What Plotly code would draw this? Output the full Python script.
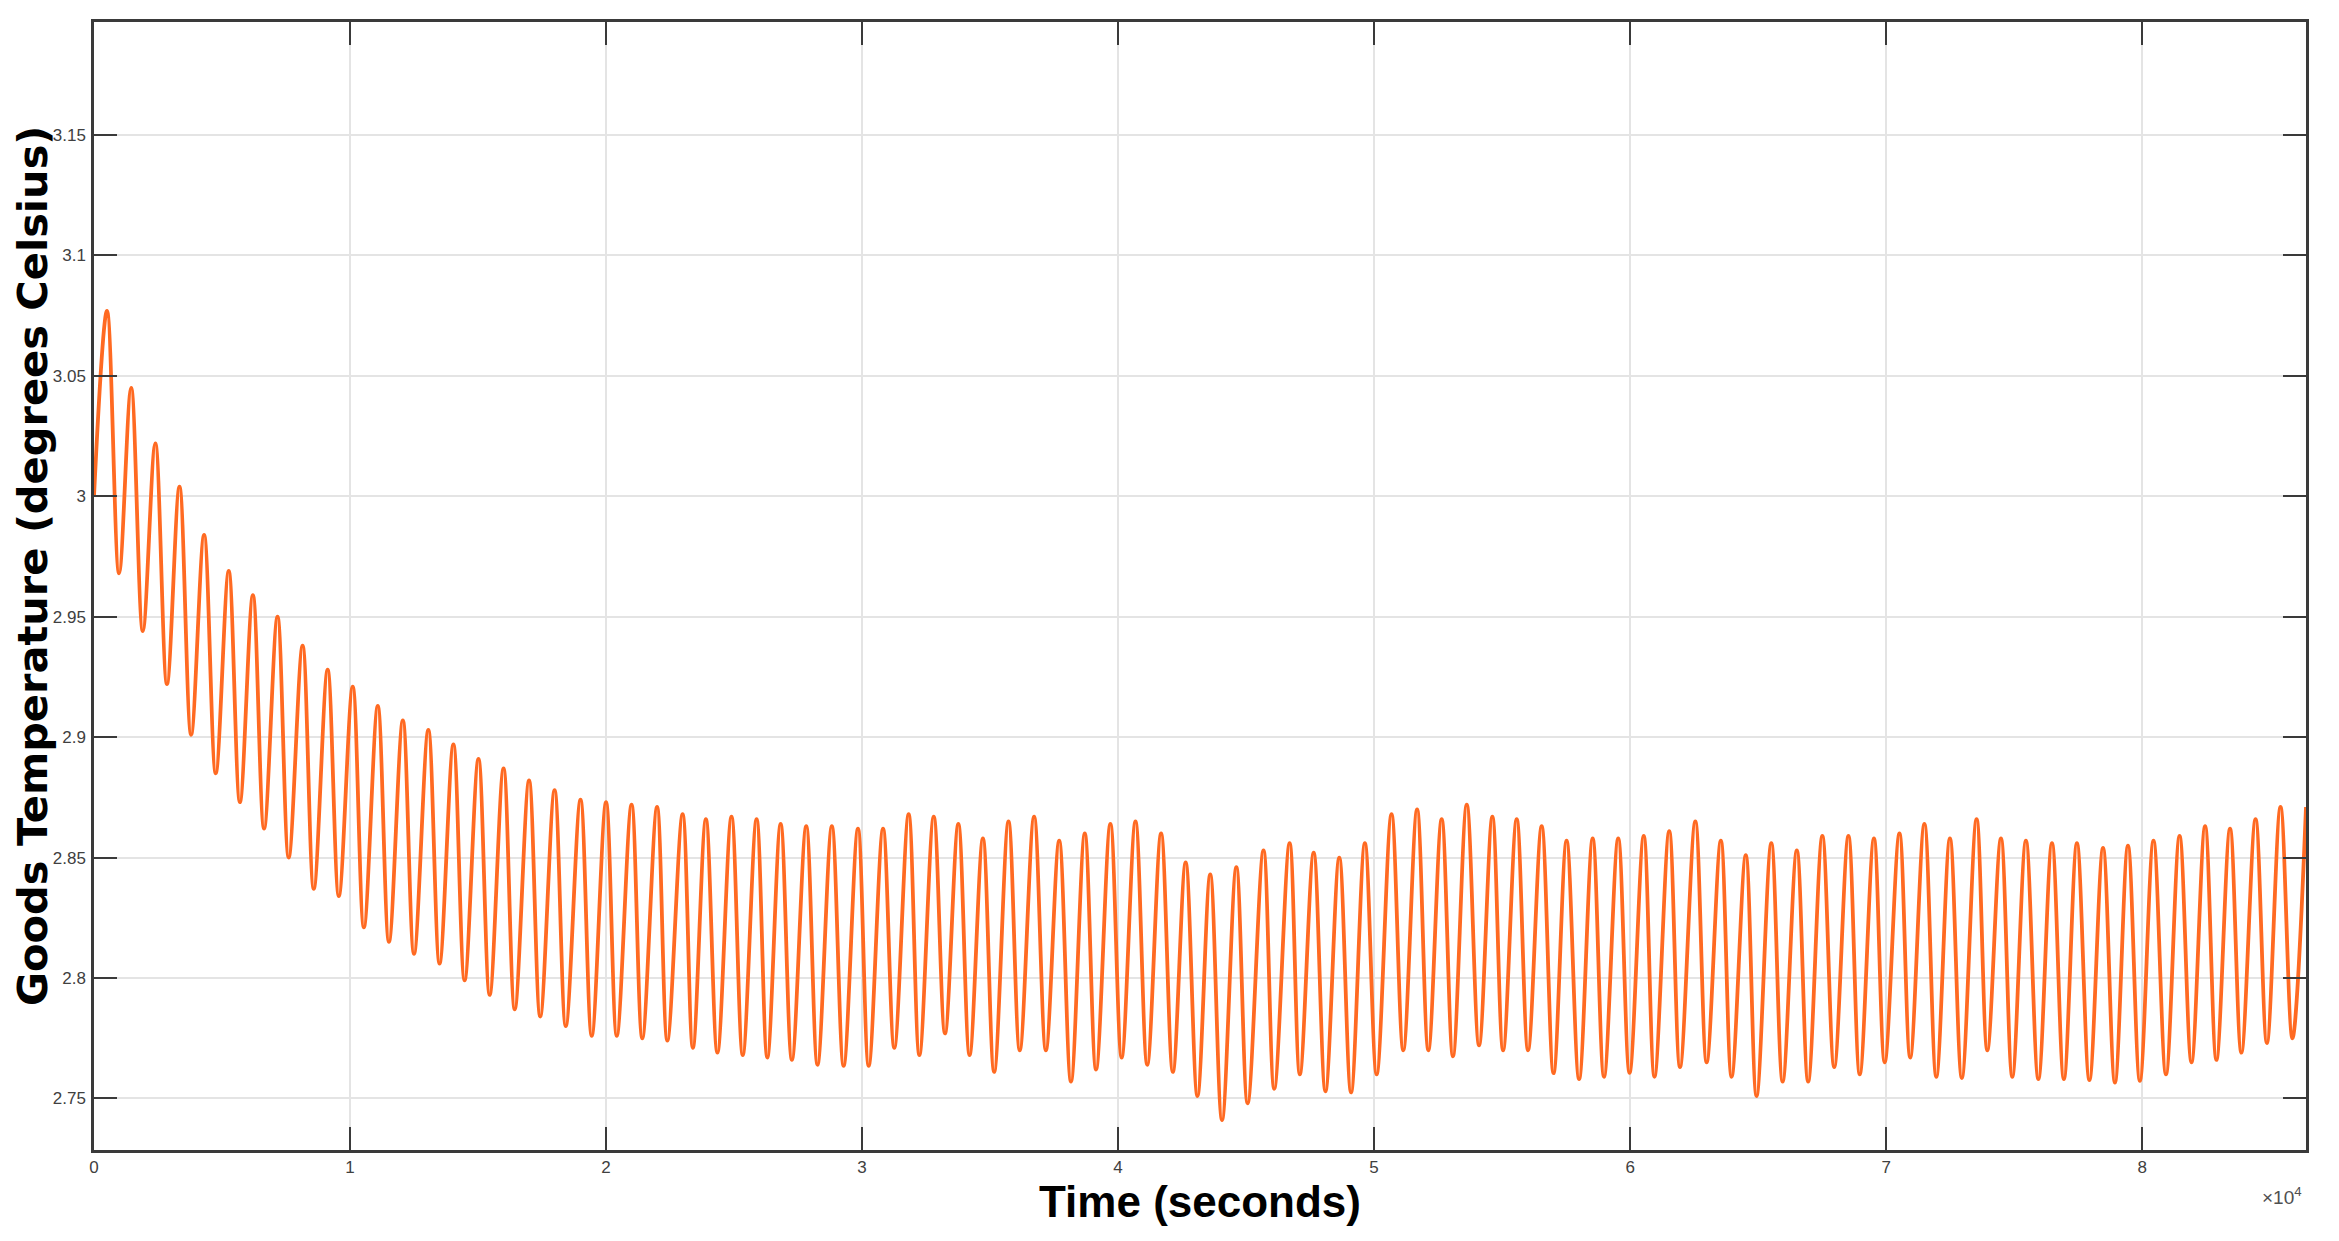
import plotly.graph_objects as go

# ---- data (time in s, temperature in °C) ----
start_time = [0]
start_temp = [3.000]

peak_time = [507, 1451, 2395, 3339, 4300, 5262, 6206, 7168, 8147, 9126,
             10105, 11084, 12063, 13059, 14038, 15017, 15997, 16993, 17990, 19003,
             20000, 20997, 21993, 22990, 23900, 24900, 25880, 26820, 27820, 28820,
             29840, 30820, 31820, 32800, 33760, 34720, 35720, 36720, 37700, 38700,
             39700, 40680, 41680, 42640, 43600, 44620, 45680, 46700, 47640, 48640,
             49640, 50680, 51680, 52640, 53620, 54620, 55570, 56545, 57519, 58538,
             59535, 60532, 61528, 62547, 63544, 64518, 65515, 66512, 67508, 68527,
             69524, 70520, 71495, 72492, 73533, 74485, 75460, 76478, 77453, 78472,
             79446, 80443, 81462, 82459, 83433, 84430, 85404, 86400]
peak_temp = [3.077, 3.045, 3.022, 3.004, 2.984, 2.969, 2.959, 2.950, 2.938, 2.928,
             2.921, 2.913, 2.907, 2.903, 2.897, 2.891, 2.887, 2.882, 2.878, 2.874,
             2.873, 2.872, 2.871, 2.868, 2.866, 2.867, 2.866, 2.864, 2.863, 2.863,
             2.862, 2.862, 2.868, 2.867, 2.864, 2.858, 2.865, 2.867, 2.857, 2.860,
             2.864, 2.865, 2.860, 2.848, 2.843, 2.846, 2.853, 2.856, 2.852, 2.850,
             2.856, 2.868, 2.870, 2.866, 2.872, 2.867, 2.866, 2.863, 2.857, 2.858,
             2.858, 2.859, 2.861, 2.865, 2.857, 2.851, 2.856, 2.853, 2.859, 2.859,
             2.858, 2.860, 2.864, 2.858, 2.866, 2.858, 2.857, 2.856, 2.856, 2.854,
             2.855, 2.857, 2.859, 2.863, 2.862, 2.866, 2.871, 2.871]

trough_time = [979, 1906, 2850, 3794, 4755, 5699, 6643, 7605, 8584, 9563,
               10542, 11521, 12500, 13497, 14476, 15455, 16434, 17430, 18427, 19441,
               20420, 21416, 22395, 23392, 24350, 25340, 26300, 27260, 28260, 29280,
               30260, 31260, 32240, 33240, 34200, 35160, 36160, 37180, 38160, 39140,
               40140, 41140, 42140, 43100, 44060, 45060, 46100, 47100, 48100, 49100,
               50100, 51140, 52120, 53080, 54100, 55039, 56013, 57010, 58007, 58981,
               59978, 60952, 61949, 62990, 63964, 64939, 65958, 66954, 67973, 68970,
               69944, 70941, 71960, 72957, 73953, 74928, 75947, 76943, 77940, 78937,
               79911, 80930, 81927, 82901, 83876, 84873, 85869]
trough_temp = [2.968, 2.944, 2.922, 2.901, 2.885, 2.873, 2.862, 2.850, 2.837, 2.834,
               2.821, 2.815, 2.810, 2.806, 2.799, 2.793, 2.787, 2.784, 2.780, 2.776,
               2.776, 2.775, 2.774, 2.771, 2.769, 2.768, 2.767, 2.766, 2.764, 2.7635,
               2.7635, 2.771, 2.768, 2.777, 2.768, 2.761, 2.770, 2.770, 2.757, 2.762,
               2.767, 2.764, 2.761, 2.751, 2.741, 2.748, 2.754, 2.760, 2.753, 2.7525,
               2.760, 2.770, 2.770, 2.7675, 2.772, 2.770, 2.770, 2.7605, 2.758, 2.759,
               2.7606, 2.759, 2.763, 2.765, 2.759, 2.751, 2.757, 2.757, 2.763, 2.760,
               2.765, 2.767, 2.759, 2.7585, 2.770, 2.759, 2.758, 2.758, 2.7576, 2.7566,
               2.7573, 2.760, 2.765, 2.766, 2.769, 2.773, 2.775]

x_tick_vals = [0, 10000, 20000, 30000, 40000, 50000, 60000, 70000, 80000]
x_tick_text = ["0", "1", "2", "3", "4", "5", "6", "7", "8"]
y_tick_vals = [2.75, 2.80, 2.85, 2.90, 2.95, 3.00, 3.05, 3.10, 3.15]
y_tick_text = ["2.75", "2.8", "2.85", "2.9", "2.95", "3", "3.05", "3.1", "3.15"]

x_title = "Time (seconds)"
y_title = "Goods Temperature (degrees Celsius)"

# merge the extremes into one time-ordered series
pts = sorted(list(zip(start_time, start_temp)) + list(zip(peak_time, peak_temp))
             + list(zip(trough_time, trough_temp)))
t_all = [p[0] for p in pts]
v_all = [p[1] for p in pts]

fig = go.Figure()
fig.add_trace(go.Scatter(
    x=t_all, y=v_all, mode="lines",
    line=dict(color="#FF6A22", width=3.8, shape="spline", smoothing=1.0),
    showlegend=False, hoverinfo="skip"))

axis_common = dict(
    showline=True, linecolor="#3a3a3a", linewidth=2.5, mirror="ticks",
    ticks="inside", ticklen=23, tickwidth=2, tickcolor="#3a3a3a",
    showgrid=True, gridcolor="#e4e4e4", gridwidth=1.5, zeroline=False,
    tickfont=dict(family="Liberation Sans, Arial, sans-serif", size=17, color="#404040"),
)

fig.update_xaxes(
    range=[0, 86400], tickmode="array", tickvals=x_tick_vals, ticktext=x_tick_text,
    title=dict(text="<b>" + x_title + "</b>",
               font=dict(family="Liberation Sans, Arial, sans-serif", size=44, color="#000000"),
               standoff=0),
    **axis_common)
fig.update_yaxes(
    range=[2.7286, 3.1969], tickmode="array", tickvals=y_tick_vals, ticktext=y_tick_text,
    ticklabelstandoff=2,
    **axis_common)

# y-axis title placed as a rotated annotation (slightly above the plot centre, as in the reference)
fig.add_annotation(
    x=0, y=0.5, xref="paper", yref="paper", xanchor="center", yanchor="middle",
    xshift=-62, yshift=20, textangle=-90, showarrow=False,
    text="<b>" + y_title + "</b>",
    font=dict(family="DejaVu Sans, Verdana, sans-serif", size=41.5, color="#000000"))

fig.add_annotation(
    x=1.0, y=0, xref="paper", yref="paper", xanchor="right", yanchor="top",
    yshift=-32, xshift=-2, showarrow=False,
    text="×10<sup>4</sup>",
    font=dict(family="Liberation Sans, Arial, sans-serif", size=19, color="#505050"))

# page body has an 8px margin, so the figure is shrunk and shifted accordingly
fig.update_layout(
    width=2331, height=1233,
    margin=dict(l=86, r=33, t=14, b=91, autoexpand=False),
    paper_bgcolor="white", plot_bgcolor="white",
)

fig.write_html("out.html")
